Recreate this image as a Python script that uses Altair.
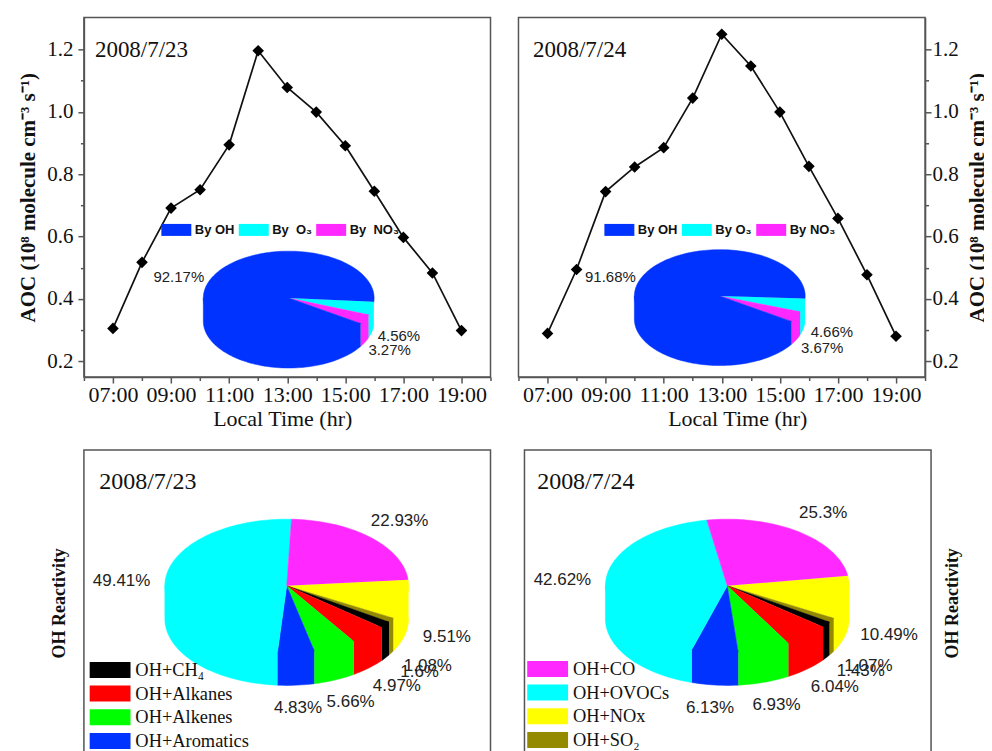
import math
import altair as alt
import pandas as pd

HOURS = list(range(7, 20))
AOC_0723 = [0.305, 0.517, 0.691, 0.750, 0.894, 1.196, 1.078, 0.999, 0.891, 0.745, 0.597, 0.483, 0.298]
AOC_0724 = [0.289, 0.494, 0.744, 0.823, 0.885, 1.044, 1.249, 1.147, 0.999, 0.825, 0.658, 0.477, 0.280]

OX_NAMES_23 = ["By OH", "By\u00a0\u00a0O\u2083", "By\u00a0\u00a0NO\u2083"]
OX_NAMES_24 = ["By OH", "By O\u2083", "By NO\u2083"]
OX_COLORS = ["#0033ff", "#00ffff", "#ff29ff"]
OX_23 = [4.56, 3.27, 92.17]
OX_24 = [4.66, 3.67, 91.68]

SPECIES = ["OH+NOx", "OH+SO\u2082", "OH+CH\u2084", "OH+Alkanes", "OH+Alkenes", "OH+Aromatics", "OH+OVOCs", "OH+CO"]
SP_COLORS = ["#ffff00", "#948a00", "#000000", "#ff0000", "#00ff00", "#0033ff", "#00ffff", "#ff29ff"]
SP_23 = [9.51, 1.08, 1.6, 4.97, 5.66, 4.83, 49.41, 22.93]
SP_24 = [10.49, 1.07, 1.43, 6.04, 6.93, 6.13, 42.62, 25.3]

W, H_TOP, H_BOT = 407, 360, 330
FRAME = "#555555"
SERIF = "Liberation Serif"
SANS = "Liberation Sans"


def ell(t, cx, cy, rx, ry, k=1.0, dy=0.0):
    return (cx + k * rx * math.cos(math.radians(t)), cy + k * ry * math.sin(math.radians(t)) + dy)


def wedge(name, a0, a1, cx, cy, rx, ry, depth):
    """Rim polygon (tucked under the top) and top sector of one slice."""
    rim, top_rows = [], []
    lo, hi = max(a0, 0), min(a1, 180)
    if hi > lo:
        m = max(2, int((hi - lo) / 2) + 2)
        ang = [lo + (hi - lo) * i / (m - 1) for i in range(m)]
        ring = [ell(lo, cx, cy, rx, ry)]
        ring += [ell(t, cx, cy, rx, ry, 0.97) for t in ang]
        ring += [ell(hi, cx, cy, rx, ry)]
        ring += [ell(t, cx, cy, rx, ry, 1.0, depth) for t in reversed(ang)]
        for i, (px, py) in enumerate(ring):
            rim.append(dict(name=name, part=name + "-rim", i=i, px=px, py=py))
    n = max(2, int(abs(a1 - a0) / 2) + 2)
    pts = [a0 + (a1 - a0) * i / (n - 1) for i in range(n)]
    top = [(cx, cy)] + [ell(t, cx, cy, rx, ry) for t in pts]
    for i, (px, py) in enumerate(top):
        top_rows.append(dict(name=name, part=name + "-top", i=i, px=px, py=py))
    return rim, top_rows


def pie_rows(names, values, start, cx, cy, rx, ry, depth):
    total = sum(values)
    rims, tops, a = [], [], start
    for nm, v in zip(names, values):
        b = a + 360.0 * v / total
        r, t = wedge(nm, a, b, cx, cy, rx, ry, depth)
        rims += r
        tops += t
        a = b
    return pd.DataFrame(rims + tops)


def pie_layer(names, colors, values, start, geom, height, labels, legend):
    df = pie_rows(names, values, start, *geom)
    sx = alt.X("px:Q", scale=alt.Scale(domain=[0, W], range=[0, W], nice=False, zero=False), axis=None)
    sy = alt.Y("py:Q", scale=alt.Scale(domain=[0, height], range=[0, height], nice=False, zero=False), axis=None)
    scale = alt.Scale(domain=names, range=colors)
    poly = alt.Chart(df).mark_line(interpolate="linear", strokeWidth=0.5).encode(
        x=sx, y=sy,
        fill=alt.Fill("name:N", scale=scale, legend=legend),
        stroke=alt.Stroke("name:N", scale=scale, legend=None),
        detail="part:N",
        order="i:Q",
    )
    txt = pd.DataFrame(labels, columns=["t", "px", "py"])
    size = 15 if height == H_TOP else 17
    text = alt.Chart(txt).mark_text(font=SANS, fontSize=size, color="#222222").encode(x=sx, y=sy, text="t:N")
    return poly, text


def swatch_legend(values, big, x0, y0):
    if big:
        path, size, off, rp, cols, font, fs, weight, cp = "M-2.92,-1.14H2.92V1.14H-2.92Z", 196, 16.1, 4.7, 1, SERIF, 18.4, "normal", 0
    else:
        path, size, off, rp, cols, font, fs, weight, cp = "M-3,-1.2H3V1.2H-3Z", 100, 12, 0, 3, SANS, 13, "bold", 3.5
    return alt.Legend(
        orient="none", legendX=x0, legendY=y0, values=values, title=None, columns=cols,
        symbolType=path, symbolSize=size, symbolStrokeWidth=0, labelOffset=off,
        labelFont=font, labelFontSize=fs, labelFontWeight=weight, labelColor="#111111",
        rowPadding=rp, columnPadding=cp, padding=0, gridAlign="each",
    )


def date_text(s, x, y, size):
    return alt.Chart(pd.DataFrame({"t": [s]})).mark_text(
        font=SERIF, fontSize=size, align="left", color="#111111"
    ).encode(x=alt.value(x), y=alt.value(y), text="t:N")


def aoc_panel(values, orient, date, datex, names, ox, start, geom, labels, lx, ly, xtitle_x):
    df = pd.DataFrame({"hour": HOURS, "aoc": values})
    xaxis = alt.Axis(
        values=list(range(6, 21)), grid=False, title="Local Time (hr)", titleX=xtitle_x,
        labelExpr="datum.value % 2 == 1 ? (datum.value < 10 ? '0' : '') + datum.value + ':00' : ''",
        tickSize={"condition": {"test": "datum.value % 2 == 1", "value": 6}, "value": 3.5},
        labelFont=SERIF, labelFontSize=22, labelColor="#111111", labelPadding=2, labelOverlap=False,
        labelFlush=False,
        titleFont=SERIF, titleFontSize=22, titleFontWeight="normal", titleColor="#111111", titlePadding=3,
        domainColor=FRAME, domainWidth=1.5, tickColor=FRAME, tickWidth=1.5,
    )
    side = dict(titleX=52, titleBaseline="middle", labelPadding=1) if orient == "right" else dict(titlePadding=8, labelPadding=5)
    yaxis = alt.Axis(
        orient=orient, values=[round(0.2 + 0.1 * i, 1) for i in range(11)], grid=False,
        title="AOC (10\u2078 molecule cm\u207b\u00b3 s\u207b\u00b9)", titleAngle=270,
        labelExpr="round(datum.value * 10) % 2 == 0 ? format(datum.value, '.1f') : ''",
        tickSize={"condition": {"test": "round(datum.value * 10) % 2 == 0", "value": 6}, "value": 3.5},
        labelFont=SERIF, labelFontSize=21, labelColor="#111111", labelOverlap=False,
        titleFont=SERIF, titleFontSize=21, titleFontWeight="bold", titleColor="#111111",
        domainColor=FRAME, domainWidth=1.5, tickColor=FRAME, tickWidth=1.5, **side,
    )
    x = alt.X("hour:Q", scale=alt.Scale(domain=[6, 20], nice=False, zero=False), axis=xaxis)
    y = alt.Y("aoc:Q", scale=alt.Scale(domain=[0.149, 1.303], nice=False, zero=False), axis=yaxis)
    line = alt.Chart(df).mark_line(color="#111111", strokeWidth=1.7).encode(x=x, y=y)
    pts = alt.Chart(df).mark_point(shape="diamond", filled=True, color="#000000", size=135, opacity=1).encode(x=x, y=y)
    order = [names[1], names[2], names[0]]
    colors = [OX_COLORS[1], OX_COLORS[2], OX_COLORS[0]]
    poly, text = pie_layer(order, colors, ox, start, geom, H_TOP, labels,
                           swatch_legend(names, False, lx, ly))
    return alt.layer(line + pts, poly, text, date_text(date, datex, 33, 23)).resolve_scale(
        x="independent", y="independent"
    ).properties(width=W, height=H_TOP)


def oh_panel(values, start, geom, date, datex, labels, legend_values, lx, ly, rx_text):
    poly, text = pie_layer(SPECIES, SP_COLORS, values, start, geom, H_BOT, labels,
                           swatch_legend(legend_values, True, lx, ly))
    side = alt.Chart(pd.DataFrame({"t": ["OH Reactivity"]})).mark_text(
        font=SERIF, fontSize=18, fontWeight="bold", angle=270, color="#111111"
    ).encode(x=alt.value(rx_text), y=alt.value(153.5), text="t:N")
    return alt.layer(poly, text, date_text(date, datex, 32, 24), side).properties(width=W, height=H_BOT)


p1 = aoc_panel(AOC_0723, "left", "2008/7/23", 11, OX_NAMES_23, OX_23, 4.5, (205, 281, 85.5, 47, 23),
               [("92.17%", 95, 260), ("4.56%", 315.3, 318.7), ("3.27%", 306, 333)], 86, 206, 198.5)
p2 = aoc_panel(AOC_0724, "right", "2008/7/24", 14.5, OX_NAMES_24, OX_24, 3.0, (201.5, 279, 85.5, 46.5, 23),
               [("91.68%", 92, 259.7), ("4.66%", 313.7, 315.3), ("3.67%", 304, 330.7)], 94.5, 206, 219)

L23 = [("22.93%", 316, 71), ("49.41%", 37.7, 130.7), ("9.51%", 363.3, 187.7), ("1.08%", 344.3, 216),
       ("1.6%", 336, 222.3), ("4.97%", 313.3, 236), ("5.66%", 267, 252), ("4.83%", 214.3, 258.7)]
L24 = [("25.3%", 299, 63.3), ("42.62%", 38, 130.3), ("10.49%", 365, 185.3), ("1.07%", 344.3, 216),
       ("1.43%", 336.7, 221.7), ("6.04%", 310.7, 237.3), ("6.93%", 252.3, 255.3), ("6.13%", 185.7, 258.3)]

p3 = oh_panel(SP_23, -5.2, (203, 136, 122, 66.7, 33), "2008/7/23", 15.3, L23,
              ["OH+CH\u2084", "OH+Alkanes", "OH+Alkenes", "OH+Aromatics"], 17, 211, -24)
p4 = oh_panel(SP_24, -8.6, (203, 136, 122, 66.7, 33), "2008/7/24", 12.7, L24,
              ["OH+CO", "OH+OVOCs", "OH+NOx", "OH+SO\u2082"], 14, 210, 429)

top = alt.hconcat(p1, p2, spacing=28, bounds="flush").resolve_scale(fill="independent", stroke="independent")
bot = alt.hconcat(p3, p4, spacing=34, bounds="flush").resolve_scale(fill="independent", stroke="independent")
chart = alt.vconcat(top, bot, spacing=18).resolve_scale(
    fill="independent", stroke="independent"
).properties(padding={"left": 8, "top": 8, "right": -4, "bottom": 0}, background="white").configure_view(
    stroke=FRAME, strokeWidth=1.5
)

chart.save("out.html", embed_options={"renderer": "svg", "actions": False})
